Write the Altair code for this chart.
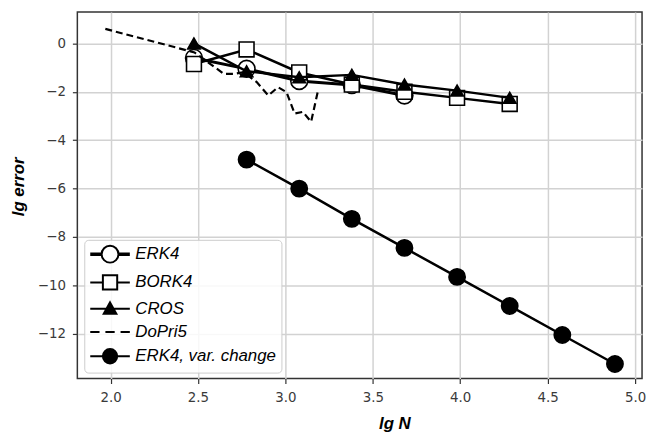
import altair as alt
import pandas as pd

# ---- data ----
lgN = [2.477, 2.778, 3.079, 3.380, 3.681, 3.982, 4.283, 4.584, 4.885]
erk4_err = [-0.6, -1.05, -1.55, -1.72, -2.15]
bork4_err = [-0.85, -0.25, -1.2, -1.7, -2.0, -2.25, -2.5]
cros_err = [0.0, -1.15, -1.4, -1.3, -1.7, -1.95, -2.25]
dopri_lgN = [1.97, 2.48, 2.648, 2.704, 2.761, 2.836, 2.902, 2.958, 3.006, 3.053, 3.10, 3.147, 3.185]
dopri_err = [0.6, -0.37, -1.26, -1.26, -1.19, -1.6, -2.15, -1.81, -2.01, -2.9, -2.83, -3.24, -2.0]
var_lgN = lgN[1:]
var_err = [-4.8, -6.0, -7.25, -8.45, -9.65, -10.85, -12.05, -13.25]
series = ["ERK4", "BORK4", "CROS", "DoPri5", "ERK4, var. change"]
x_ticks = [2.0, 2.5, 3.0, 3.5, 4.0, 4.5, 5.0]
y_ticks = [0, -2, -4, -6, -8, -10, -12]

df_erk4 = pd.DataFrame({"x": lgN[:5], "y": erk4_err})
df_bork4 = pd.DataFrame({"x": lgN[:7], "y": bork4_err})
df_cros = pd.DataFrame({"x": lgN[:7], "y": cros_err})
df_dopri = pd.DataFrame({"x": dopri_lgN, "y": dopri_err})
df_var = pd.DataFrame({"x": var_lgN, "y": var_err})
df_leg = pd.DataFrame({"x": [0.0] * 5, "y": [0.0] * 5, "series": series})

xscale = alt.Scale(domain=[1.81, 5.04], nice=False, zero=False)
yscale = alt.Scale(domain=[-13.85, 1.3], nice=False, zero=False)

X = alt.X("x:Q", scale=xscale,
          axis=alt.Axis(values=x_ticks, format=".1f", title="lg N",
                        titleX=320, titleY=45, titleBaseline="middle", titleAlign="center"))
Y = alt.Y("y:Q", scale=yscale,
          axis=alt.Axis(values=y_ticks, format="d", title="lg error",
                        titleX=-59, titleY=176, titleBaseline="middle", titleAlign="center",
                        titleAngle=-90))


def line(df, width=2.5, dash=None):
    kw = {}
    if dash:
        kw["strokeDash"] = dash
    return alt.Chart(df).mark_line(color="black", strokeWidth=width, clip=True, **kw).encode(x=X, y=Y)


def pts(df, shape, size, fill):
    return alt.Chart(df).mark_point(shape=shape, size=size, filled=True, fill=fill,
                                    stroke="black", strokeWidth=1.6, opacity=1,
                                    clip=True).encode(x=X, y=Y)


# legend symbols (custom paths with line segments)
p_open_circle = ("M-2.35,-0.09H-1M-2.35,0.09H-1M1,-0.09H2.35M1,0.09H2.35"
                 "M1,0A1,1 0 1,1 -1,0A1,1 0 1,1 1,0Z")
p_square = "M-2.35,0H-0.85M0.85,0H2.35M-0.85,-0.85H0.85V0.85H-0.85Z"
p_triangle = "M-2.35,0H2.35M0,-0.75L0.75,0.6L-0.75,0.6Z"
p_dash = "M-2.35,0H-1.25M-0.55,0H0.55M1.25,0H2.35"
p_filled_circle = "M-2.35,0H2.35M0.85,0A0.85,0.85 0 1,1 -0.85,0A0.85,0.85 0 1,1 0.85,0Z"

leg = alt.Legend(title=None, orient="none", legendX=7, legendY=230,
                 symbolSize=289, symbolOffset=11.5, labelOffset=16,
                 rowPadding=4.5, padding=5,
                 labelFont="Liberation Sans", labelFontStyle="italic",
                 labelFontSize=17, labelColor="black", labelLimit=300,
                 fillColor="rgba(255,255,255,0.85)", strokeColor="#cccccc",
                 cornerRadius=4, symbolStrokeWidth=2, symbolOpacity=1)

legend_layer = alt.Chart(df_leg).mark_point(clip=True, filled=False, opacity=1).encode(
    x=X, y=Y,
    shape=alt.Shape("series:N", scale=alt.Scale(
        domain=series,
        range=[p_open_circle, p_square, p_triangle, p_dash, p_filled_circle]),
        legend=leg),
    fill=alt.Fill("series:N", scale=alt.Scale(
        domain=series, range=["white", "white", "black", "transparent", "black"]),
        legend=leg),
    stroke=alt.Stroke("series:N", scale=alt.Scale(
        domain=series, range=["black", "black", "black", "black", "black"]),
        legend=leg),
)

chart = alt.layer(
    line(df_erk4, 3.0), pts(df_erk4, "circle", 289, "white"),
    line(df_bork4, 2.5), pts(df_bork4, "square", 225, "white"),
    line(df_cros, 2.5), pts(df_cros, "triangle-up", 160, "black"),
    line(df_dopri, 2.2, [7, 4]),
    line(df_var, 2.5), pts(df_var, "circle", 270, "black"),
    legend_layer,
).properties(
    width=570, height=370,
    autosize=alt.AutoSizeParams(type="none"),
    padding={"left": 70, "top": 2, "right": 5, "bottom": 56},
).configure_view(
    stroke="#333333", strokeWidth=1.5
).configure_axis(
    domain=False,
    grid=True, gridColor="#d2d2d2", gridWidth=1.5,
    ticks=True, tickSize=5, tickColor="#333333", tickWidth=1.2,
    labelFont="DejaVu Sans", labelFontSize=13.5, labelColor="#3a3a3a",
    labelPadding=7,
    titleFont="Liberation Sans", titleFontStyle="italic", titleFontWeight="bold",
    titleFontSize=17, titleColor="black",
)

chart.save("out.html", embed_options={"renderer": "svg", "actions": False})
